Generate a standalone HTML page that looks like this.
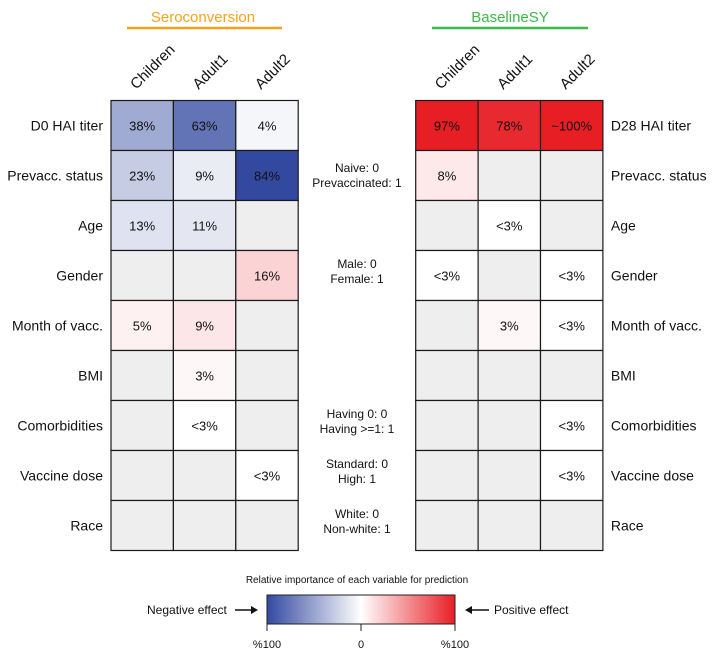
<!DOCTYPE html>
<html><head><meta charset="utf-8"><style>
body{margin:0;background:#fff;}
svg{display:block;font-family:"Liberation Sans",Arial,sans-serif;}
</style></head><body>
<svg id="chart" width="712" height="655" viewBox="0 0 712 655" xmlns="http://www.w3.org/2000/svg">
<defs>
<linearGradient id="grad" x1="0" x2="1" y1="0" y2="0">
<stop offset="0" stop-color="#3349a0"/><stop offset="0.5" stop-color="#ffffff"/><stop offset="1" stop-color="#e81e25"/>
</linearGradient>
</defs>
<text x="203" y="22" text-anchor="middle" font-size="15" fill="#f7a21b">Seroconversion</text>
<line x1="127" x2="282" y1="28" y2="28" stroke="#f7a21b" stroke-width="2.5"/>
<text x="510" y="22" text-anchor="middle" font-size="15" fill="#3cb94a">BaselineSY</text>
<line x1="432" x2="588" y1="28" y2="28" stroke="#3cb94a" stroke-width="2.5"/>
<g id="cells"></g>
<g id="labels"></g>
<g font-size="12" text-anchor="middle" fill="#111">
<text x="357" y="172"><tspan x="357">Naive: 0</tspan><tspan x="357" dy="15">Prevaccinated: 1</tspan></text>
<text x="357" y="268"><tspan x="357">Male: 0</tspan><tspan x="357" dy="15">Female: 1</tspan></text>
<text x="357" y="418"><tspan x="357">Having 0: 0</tspan><tspan x="357" dy="15">Having &gt;=1: 1</tspan></text>
<text x="357" y="468"><tspan x="357">Standard: 0</tspan><tspan x="357" dy="15">High: 1</tspan></text>
<text x="357" y="518"><tspan x="357">White: 0</tspan><tspan x="357" dy="15">Non-white: 1</tspan></text>
</g>
<text x="357" y="583" text-anchor="middle" font-size="10" fill="#111">Relative importance of each variable for prediction</text>
<rect x="267" y="595" width="188" height="29" fill="url(#grad)" stroke="#222" stroke-width="1"/>
<g stroke="#222" stroke-width="1">
<line x1="267" x2="267" y1="624" y2="631"/><line x1="361" x2="361" y1="624" y2="631"/><line x1="455" x2="455" y1="624" y2="631"/>
</g>
<g font-size="11" text-anchor="middle" fill="#111">
<text x="267" y="648">%100</text>
<text x="361" y="648">0</text>
<text x="455" y="648">%100</text>
</g>
<text x="147" y="614" font-size="12" fill="#111">Negative effect</text>
<g><line x1="235" x2="256" y1="610" y2="610" stroke="#111" stroke-width="1.5"/><path d="M258,610 L251,606 L251,614 Z" fill="#111"/></g>
<g><line x1="468" x2="489" y1="610" y2="610" stroke="#111" stroke-width="1.5"/><path d="M465,610 L472,606 L472,614 Z" fill="#111"/></g>
<text x="494" y="614" font-size="12" fill="#111">Positive effect</text>
</svg>
<script>
const groups = ["Children","Adult1","Adult2"];
const leftRows = ["D0 HAI titer","Prevacc. status","Age","Gender","Month of vacc.","BMI","Comorbidities","Vaccine dose","Race"];
const rightRows = ["D28 HAI titer","Prevacc. status","Age","Gender","Month of vacc.","BMI","Comorbidities","Vaccine dose","Race"];
const seroValues = [[-38,-63,-4],[-23,-9,-84],[-13,-11,null],[null,null,16],[5,9,null],[null,3,null],[null,1,null],[null,null,1],[null,null,null]];
const seroLabels = [["38%","63%","4%"],["23%","9%","84%"],["13%","11%",""],["","","16%"],["5%","9%",""],["","3%",""],["","<3%",""],["","","<3%"],["","",""]];
const baseValues = [[97,78,100],[8,null,null],[null,1,null],[1,null,1],[null,3,1],[null,null,null],[null,null,1],[null,null,1],[null,null,null]];
const baseLabels = [["97%","78%","~100%"],["8%","",""],["","<3%",""],["<3%","","<3%"],["","3%","<3%"],["","",""],["","","<3%"],["","","<3%"],["","",""]];

const NS="http://www.w3.org/2000/svg";
const cellsG=document.getElementById('cells'), labG=document.getElementById('labels');
const cw=62.4, rh=50, top0=100.5;
function colX(x0,j){return x0+j*cw;}
function rowY(i){return top0+i*rh;}
function color(v){
  if(v===null) return '#eeeeee';
  const a=Math.abs(v);
  const t=a<3?0:Math.min(a/82,1);
  const end=v<0?[51,73,160]:[232,30,37];
  const c=end.map(e=>Math.round(255+(e-255)*t));
  return `rgb(${c[0]},${c[1]},${c[2]})`;
}
function mk(tag,attrs,parent){const e=document.createElementNS(NS,tag);for(const k in attrs)e.setAttribute(k,attrs[k]);parent.appendChild(e);return e;}
function drawGrid(x0,vals,labs,rows,side,labelLeft){
  vals.forEach((row,i)=>row.forEach((v,j)=>{
    const r=mk('rect',{x:colX(x0,j),y:rowY(i),width:cw,height:rh,fill:color(v),stroke:'#1a1a1a','stroke-width':1.2},cellsG);
    
    
    if(labs[i][j]){
      const t=mk('text',{x:colX(x0,j)+cw/2,y:rowY(i)+rh/2+5,'text-anchor':'middle','font-size':13,fill:'#111'},cellsG);
      t.textContent=labs[i][j];
      
      
    }
  }));
  rows.forEach((name,i)=>{
    const t=mk('text',{x:labelLeft?x0-8:x0+3*cw+8,y:rowY(i)+rh/2+5,'text-anchor':labelLeft?'end':'start','font-size':14,fill:'#111'},labG);
    t.textContent=name;
    
    
  });
  groups.forEach((g,j)=>{
    const cx=colX(x0,j)+cw/2-6, cy=90;
    const t=mk('text',{x:cx,y:cy,'font-size':15,fill:'#111',transform:`rotate(-45 ${cx} ${cy})`},labG);
    t.textContent=g;
    
    
  });
}
drawGrid(111,seroValues,seroLabels,leftRows,'seroconversion',true);
drawGrid(415.7,baseValues,baseLabels,rightRows,'baselinesy',false);
</script>
</body></html>
